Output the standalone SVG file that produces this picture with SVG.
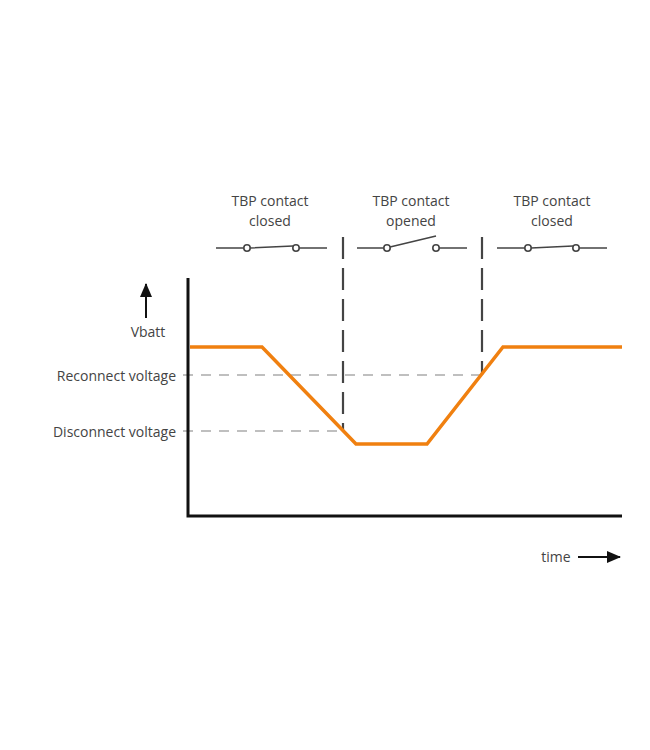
<svg xmlns="http://www.w3.org/2000/svg" width="650" height="750" viewBox="0 0 650 750">
<style>
text{font-family:"Open Sans","DejaVu Sans",sans-serif;font-size:14px;fill:#444}
.sw{stroke:#444;stroke-width:1.6;fill:none}
.c{stroke:#444;stroke-width:1.6;fill:#fff}
.gd{stroke:#aaa;stroke-width:1.6;stroke-dasharray:10,8;fill:none}
.kd{stroke:#444;stroke-width:2.2;stroke-dasharray:22,9;fill:none}
</style>
<defs><marker id="ah" markerWidth="8" markerHeight="8" refX="7" refY="4" orient="auto" markerUnits="userSpaceOnUse"><path d="M0,0L8,4L0,8z" fill="#111"/></marker>
<marker id="ah2" markerWidth="14" markerHeight="12" refX="13" refY="6" orient="auto" markerUnits="userSpaceOnUse"><path d="M0,0L14,6L0,12z" fill="#111"/></marker></defs>
<rect width="650" height="750" fill="#fff"/>
<g id="labels">
<text x="270" y="206" text-anchor="middle">TBP contact</text><text x="270" y="226" text-anchor="middle">closed</text>
<text x="411" y="206" text-anchor="middle">TBP contact</text><text x="411" y="226" text-anchor="middle">opened</text>
<text x="552" y="206" text-anchor="middle">TBP contact</text><text x="552" y="226" text-anchor="middle">closed</text>
<text x="148" y="337" text-anchor="middle">Vbatt</text>
<text x="176" y="381" text-anchor="end">Reconnect voltage</text>
<text x="176" y="437" text-anchor="end">Disconnect voltage</text>
<text x="556" y="562" text-anchor="middle">time</text>
</g>
<g id="switch1"><path class="sw" d="M216,248H244M250,248L293,246M299,248H327"/><circle class="c" cx="247" cy="248" r="3.2"/><circle class="c" cx="296" cy="248" r="3.2"/></g>
<g id="switch2"><path class="sw" d="M357,248H384M390,247L436,236M439,248H467"/><circle class="c" cx="387" cy="248" r="3.2"/><circle class="c" cx="436" cy="248" r="3.2"/></g>
<g id="switch3"><path class="sw" d="M497,248H525M531,248L573,246M579,248H607"/><circle class="c" cx="528" cy="248" r="3.2"/><circle class="c" cx="576" cy="248" r="3.2"/></g>
<g id="connectors">
<path class="gd" d="M183,375H482M183,431H343"/>
<path class="kd" d="M343,237V431M482,237V375"/>
<path d="M188,278V516H622" stroke="#111" stroke-width="3" fill="none"/>
<path d="M146,318V284" stroke="#111" stroke-width="2" marker-end="url(#ah2)"/>
<path d="M578,557H620" stroke="#111" stroke-width="2" marker-end="url(#ah2)"/>
<path d="M190,347H262L356,444H427L503,347H622" stroke="#f08010" stroke-width="3.5" fill="none"/>
</g>
</svg>
